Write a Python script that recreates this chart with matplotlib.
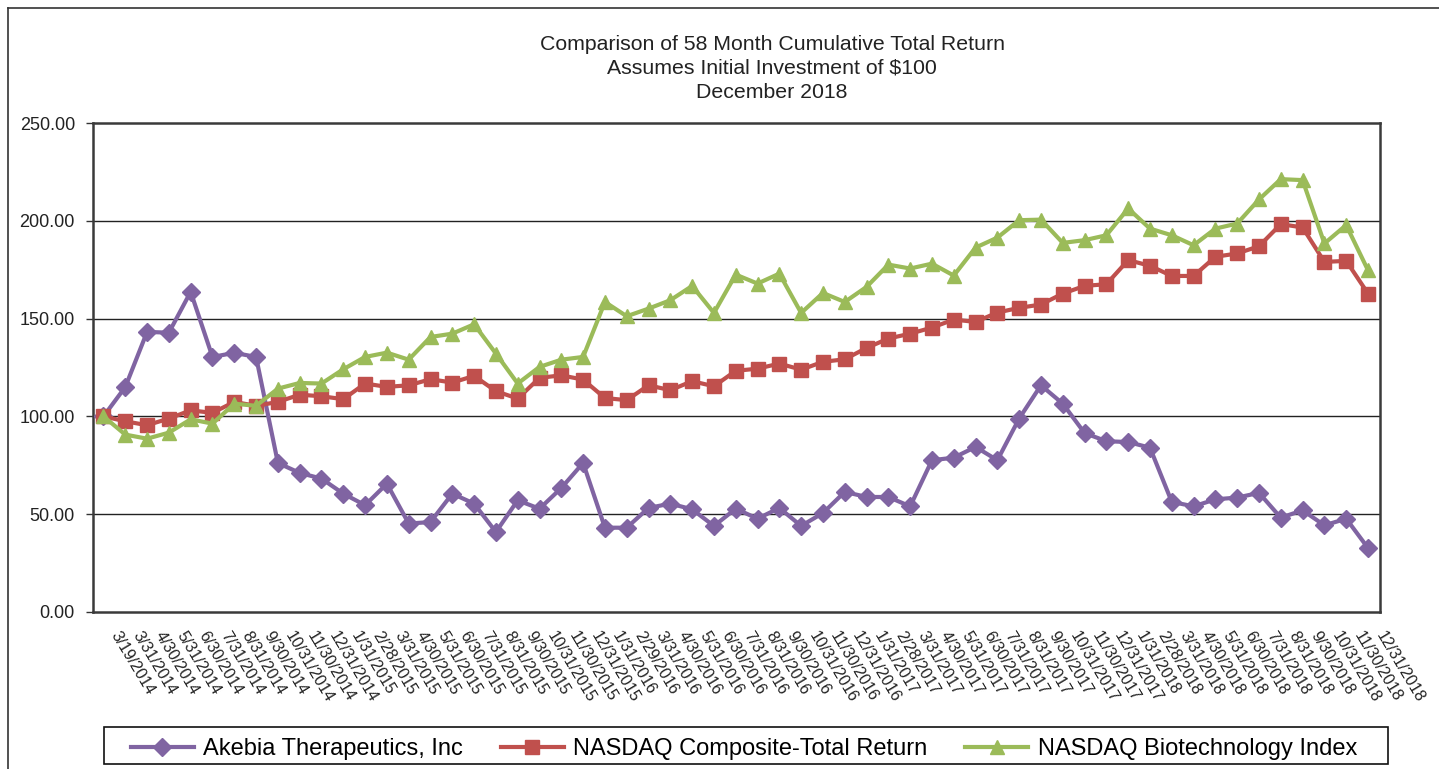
import matplotlib
matplotlib.use("Agg")
import matplotlib.pyplot as plt
from matplotlib.lines import Line2D
from matplotlib.patches import Rectangle

plt.rcParams['font.family'] = ['Liberation Sans', 'DejaVu Sans']

dates = ["3/19/2014", "3/31/2014", "4/30/2014", "5/31/2014", "6/30/2014", "7/31/2014", "8/31/2014",
         "9/30/2014", "10/31/2014", "11/30/2014", "12/31/2014",
         "1/31/2015", "2/28/2015", "3/31/2015", "4/30/2015", "5/31/2015", "6/30/2015", "7/31/2015",
         "8/31/2015", "9/30/2015", "10/31/2015", "11/30/2015", "12/31/2015",
         "1/31/2016", "2/29/2016", "3/31/2016", "4/30/2016", "5/31/2016", "6/30/2016", "7/31/2016",
         "8/31/2016", "9/30/2016", "10/31/2016", "11/30/2016", "12/31/2016",
         "1/31/2017", "2/28/2017", "3/31/2017", "4/30/2017", "5/31/2017", "6/30/2017", "7/31/2017",
         "8/31/2017", "9/30/2017", "10/31/2017", "11/30/2017", "12/31/2017",
         "1/31/2018", "2/28/2018", "3/31/2018", "4/30/2018", "5/31/2018", "6/30/2018", "7/31/2018",
         "8/31/2018", "9/30/2018", "10/31/2018", "11/30/2018", "12/31/2018"]

akebia = [100.0, 115.0, 143.2, 142.8, 163.7, 130.4, 132.5, 130.4, 76.2, 71.1, 68.2,
          60.5, 54.6, 65.6, 45.2, 46.0, 60.5, 55.4, 40.9, 57.1, 52.8, 63.4, 76.2,
          43.1, 43.1, 53.2, 55.4, 52.5, 44.0, 52.8, 47.7, 53.2, 44.0, 50.6, 61.4,
          58.8, 58.8, 54.0, 77.6, 78.9, 84.4, 77.6, 98.9, 115.9, 106.5, 91.5, 87.3,
          86.9, 84.0, 56.3, 54.0, 57.6, 58.5, 60.9, 48.2, 52.0, 44.3, 47.7, 32.7]

nasdaq_comp = [100.0, 97.5, 95.5, 98.9, 103.1, 101.8, 107.4, 105.4, 107.4, 111.1, 110.3,
               108.8, 116.8, 115.1, 115.9, 119.0, 117.3, 120.7, 112.9, 109.1, 119.7, 121.0, 118.8,
               109.4, 108.3, 115.9, 113.4, 118.0, 115.4, 123.3, 124.4, 127.0, 123.9, 127.9, 129.2,
               135.0, 139.8, 142.3, 145.4, 149.5, 148.3, 153.1, 155.5, 157.2, 162.8, 166.7, 167.6,
               179.9, 177.0, 171.8, 171.8, 181.6, 183.3, 187.0, 198.3, 196.6, 179.0, 179.5, 162.8]

nasdaq_bio = [100.0, 90.7, 88.6, 91.7, 98.5, 96.3, 106.5, 105.4, 114.2, 117.1, 116.8,
              124.1, 130.4, 132.6, 129.0, 140.6, 142.3, 147.1, 132.1, 116.8, 125.3, 129.0, 130.4,
              158.5, 151.2, 155.1, 159.4, 166.7, 152.9, 172.5, 167.9, 173.0, 152.9, 163.1, 158.5,
              166.2, 177.6, 175.6, 178.1, 172.0, 186.3, 191.4, 200.3, 200.6, 188.7, 190.1, 192.6,
              206.3, 196.0, 192.6, 187.5, 196.0, 198.6, 210.9, 221.3, 220.8, 188.4, 197.8, 174.7]

series_names = ["Akebia Therapeutics, Inc", "NASDAQ Composite-Total Return", "NASDAQ Biotechnology Index"]
colors = ["#8064A2", "#C0504D", "#9BBB59"]
markers = ["D", "s", "^"]
msizes = [9.5, 9.5, 10.5]

y_ticks = [0, 50, 100, 150, 200, 250]
title_lines = ["Comparison of 58 Month Cumulative Total Return",
               "Assumes Initial Investment of $100",
               "December 2018"]

W, H = 1439, 769
fig = plt.figure(figsize=(W / 100, H / 100), dpi=100)
fig.patch.set_facecolor("white")

# outer chart border (top and left visible)
fig.add_artist(Line2D([8 / W, 8 / W], [0, 1 - 8 / H], transform=fig.transFigure, color="#333333", lw=1.2))
fig.add_artist(Line2D([8 / W, 1], [1 - 8 / H, 1 - 8 / H], transform=fig.transFigure, color="#333333", lw=1.2))

left, right, top, bottom = 93, 1380, 123, 612
ax = fig.add_axes([left / W, 1 - bottom / H, (right - left) / W, (bottom - top) / H])

x = list(range(len(dates)))
handles = []
for vals, name, c, m, ms in zip([akebia, nasdaq_comp, nasdaq_bio], series_names, colors, markers, msizes):
    h, = ax.plot(x, vals, color=c, lw=3, marker=m, markersize=ms, markeredgecolor=c,
                 markerfacecolor=c, label=name, zorder=3)
    handles.append(h)

ax.set_xlim(-0.48, 58.55)
ax.set_ylim(0, 250)
ax.set_yticks(y_ticks)
ax.set_yticklabels([f"{v:.2f}" for v in y_ticks], fontsize=13, color="#222222")
ax.tick_params(axis="y", length=5, width=1, color="#333333", pad=8)
ax.set_xticks([])
for yv in y_ticks[1:-1]:
    ax.axhline(yv, color="#222222", lw=1, zorder=1)
for s in ax.spines.values():
    s.set_color("#3a3a3a")
    s.set_linewidth(1.8)

# rotated date labels
for i, d in enumerate(dates):
    ax.annotate(d, xy=(i, 0), xycoords=("data", "axes fraction"), xytext=(8, -15),
                textcoords="offset points", rotation=-59, rotation_mode="anchor",
                ha="left", va="center", fontsize=11.5, color="#222222")

# title
ty = [44, 68, 93]
for line, yy in zip(title_lines, ty):
    fig.text(772 / W, 1 - yy / H, line, ha="center", va="center", fontsize=15.3, color="#222222")

# legend frame drawn separately to match the reference padding
fig.add_artist(Rectangle((104 / W, 1 - 764 / H), (1388 - 104) / W, (764 - 727) / H,
                         transform=fig.transFigure, fill=False, edgecolor="#111111", lw=1.2))
leg = fig.legend(handles=handles, labels=series_names, ncol=3, loc="center",
                 bbox_to_anchor=(744 / W, 1 - 749 / H), fontsize=17, frameon=False,
                 handlelength=2.67, handletextpad=0.4, columnspacing=1.6,
                 borderpad=0.0, borderaxespad=0)

fig.savefig("out.png", dpi=100, facecolor="white")
